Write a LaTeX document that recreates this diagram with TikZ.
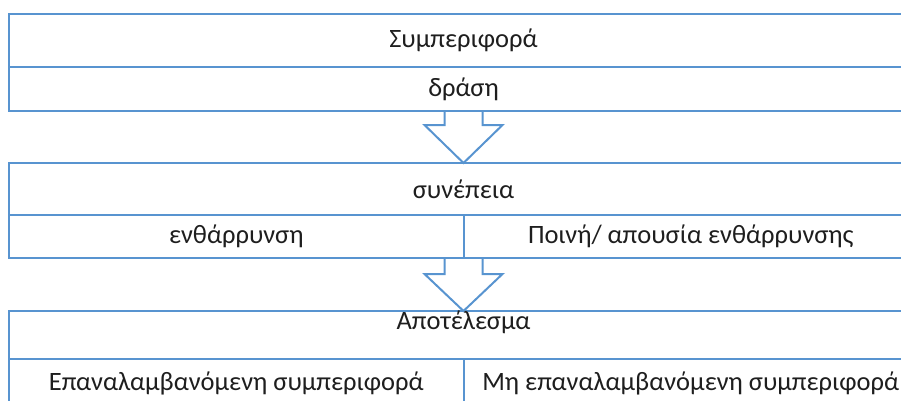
\documentclass[tikz,border=0pt]{standalone}
\usepackage{fontspec}
\setmainfont{Carlito}
\usetikzlibrary{positioning,calc}
\definecolor{boxblue}{RGB}{88,148,208}
\definecolor{txtgray}{RGB}{30,30,30}
\tikzset{
  cell/.style={draw=boxblue, line width=2pt, outer sep=0pt, inner sep=0pt,
    minimum width=909pt, text=txtgray},
  halfcell/.style={cell, minimum width=454.5pt},
  blockarrow/.style={draw=boxblue, line width=2pt, line join=miter},
}

\begin{document}
\begin{tikzpicture}[x=1pt,y=-1pt,font=\fontsize{26.5}{30}\selectfont]
	\useasboundingbox (0,0) rectangle (901,401);
	\clip (0,0) rectangle (901,401);
	% behaviour
	\node[cell, minimum height=53pt] (behav) at (463.5,40.5) {Συμπεριφορά};
	\node[cell, minimum height=44pt, below=0pt of behav] (act) {δράση};
	% consequence
	\node[cell, minimum height=52pt] (cons) at (463.5,189) {συνέπεια};
	\node[halfcell, minimum height=43pt, below right=0pt and 0pt of cons.south west] (enc) {ενθάρρυνση};
	\node[halfcell, minimum height=43pt, right=0pt of enc] (pun) {Ποινή/ απουσία ενθάρρυνσης};
	% result
	\node[cell, minimum height=48pt,
		label={[name=reslbl, anchor=north, inner sep=0pt, text=txtgray]north:Αποτέλεσμα}] (res) at (463.5,335) {};
	\node[halfcell, minimum height=48pt, below right=0pt and 0pt of res.south west] (rep) {Επαναλαμβανόμενη συμπεριφορά};
	\node[halfcell, minimum height=48pt, right=0pt of rep] (nonrep) {Μη επαναλαμβανόμενη συμπεριφορά};
	% arrows
	\draw[blockarrow] ($(act.south)+(-19,0)$) -- ++(0,14) -- ++(-20,0) -- (cons.north)
		-- ++(39,-38) -- ++(-20,0) -- ++(0,-14);
	\draw[blockarrow] ($(cons.south |- enc.south)+(-19,0)$) -- ++(0,16) -- ++(-20,0) -- (res.north)
		-- ++(39,-37) -- ++(-20,0) -- ++(0,-16);
\end{tikzpicture}
\end{document}
